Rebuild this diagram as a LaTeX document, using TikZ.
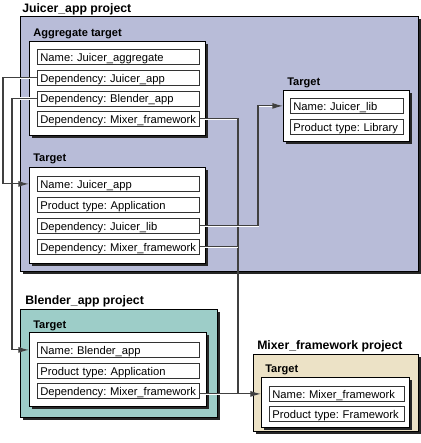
\documentclass[tikz,border=0pt]{standalone}
\usepackage{fontspec}
\setmainfont{Liberation Sans}
\usetikzlibrary{shadows,arrows.meta}
\definecolor{lav}{RGB}{184,188,216}
\definecolor{tealbg}{RGB}{157,205,200}
\definecolor{tanbg}{RGB}{236,226,198}
\begin{document}
\frenchspacing
\begin{tikzpicture}[x=0.75pt,y=-0.75pt,
  proj/.style={draw=black, line width=0.75pt, anchor=north west, inner sep=0pt,
    drop shadow={shadow xshift=1.5pt,shadow yshift=-1.5pt,fill=black!85,opacity=1}},
  tbox/.style={proj, fill=white},
  fld/.style={draw=black!80, line width=0.6pt, fill=white, anchor=north west,
    inner xsep=2.25pt, inner ysep=0pt, minimum height=11.25pt,
    font=\fontsize{8.4}{10}\selectfont, text height=7.4pt, text depth=1.2pt, align=left,
    execute at begin node={\frenchspacing\leavevmode\hbox\bgroup},
    execute at end node={\egroup}},
  fa/.style={fld, text width=117pt},
  fr/.style={fld, text width=80.25pt},
  fm/.style={fld, text width=96.75pt},
  plabel/.style={anchor=base west, inner sep=0pt, font=\fontsize{9.2}{11}\selectfont\bfseries},
  tlabel/.style={anchor=base west, inner sep=0pt, font=\fontsize{8.3}{10}\selectfont\bfseries},
  conn/.style={draw=black!75, line width=0.8pt, preaction={draw=white, line width=1.8pt}},
  arr/.style={-{Latex[length=8pt,width=4.5pt]}}
]
\useasboundingbox (0,0) rectangle (421,443);

% containers
\node[proj, fill=lav, minimum width=398*0.75pt, minimum height=255*0.75pt] (jp) at (20,16) {};
\node[tbox, minimum width=176*0.75pt, minimum height=94*0.75pt] (agg) at (29,41) {};
\node[tbox, minimum width=176*0.75pt, minimum height=96*0.75pt] (jt) at (29,167) {};
\node[tbox, minimum width=126*0.75pt, minimum height=51*0.75pt] (rt) at (283,90) {};
\node[proj, fill=tealbg, minimum width=197*0.75pt, minimum height=108*0.75pt] (bp) at (20,309) {};
\node[tbox, minimum width=177*0.75pt, minimum height=74*0.75pt] (bt) at (29,332) {};
\node[proj, fill=tanbg, minimum width=165*0.75pt, minimum height=77*0.75pt] (mp) at (253,354) {};
\node[tbox, minimum width=148*0.75pt, minimum height=50*0.75pt] (mt) at (261,377) {};

% labels
\node[plabel] (ljp) at (22,12.5) {Juicer\_app project};
\node[tlabel] (lagg) at (33,36.5) {Aggregate target};
\node[tlabel] (ljt) at (33,161.5) {Target};
\node[tlabel] (lrt) at (287,85) {Target};
\node[plabel] (lbp) at (25,304.5) {Blender\_app project};
\node[tlabel] (lbt) at (33,328) {Target};
\node[plabel] (lmp) at (257,349) {Mixer\_framework project};
\node[tlabel] (lmt) at (265,372.5) {Target};

% fields
\node[fa] (a1) at (37,49) {Name: Juicer\_aggregate};
\node[fa] (a2) at (37,70) {Dependency: Juicer\_app};
\node[fa] (a3) at (37,90.5) {Dependency: Blender\_app};
\node[fa] (a4) at (37,111) {Dependency: Mixer\_framework};
\node[fa] (j1) at (37,176) {Name: Juicer\_app};
\node[fa] (j2) at (37,197) {Product type: Application};
\node[fa] (j3) at (37,218) {Dependency: Juicer\_lib};
\node[fa] (j4) at (37,239) {Dependency: Mixer\_framework};
\node[fr] (r1) at (290,98) {Name: Juicer\_lib};
\node[fr] (r2) at (290,119) {Product type: Library};
\node[fa] (b1) at (37,342) {Name: Blender\_app};
\node[fa] (b2) at (37,363) {Product type: Application};
\node[fa] (b3) at (37,383) {Dependency: Mixer\_framework};
\node[fm] (m1) at (269,386) {Name: Mixer\_framework};
\node[fm] (m2) at (269,406) {Product type: Framework};

% routing coordinates
\coordinate (L1) at (3,0);
\coordinate (L2) at (12,0);
\coordinate (V) at (238,0);
\coordinate (V2) at (258,0);

% connectors
\draw[conn] (a4.east) -- (a4.east -| V) -- (V |- m1.west);
\draw[conn] (j4.east) -- (j4.east -| V);
\draw[conn, arr] (j3.east) -- (j3.east -| V2) -- (V2 |- r1.west) -- (r1.west -| rt.west);
\draw[conn, arr] (a2.west) -- (a2.west -| L1) -- (L1 |- j1.west) -- (j1.west -| jt.west);
\draw[conn, arr] (a3.west) -- (a3.west -| L2) -- (L2 |- b1.west) -- (b1.west -| bt.west);
\draw[conn, arr] (b3.east |- m1.west) -- (m1.west -| mt.west);
\end{tikzpicture}
\end{document}
